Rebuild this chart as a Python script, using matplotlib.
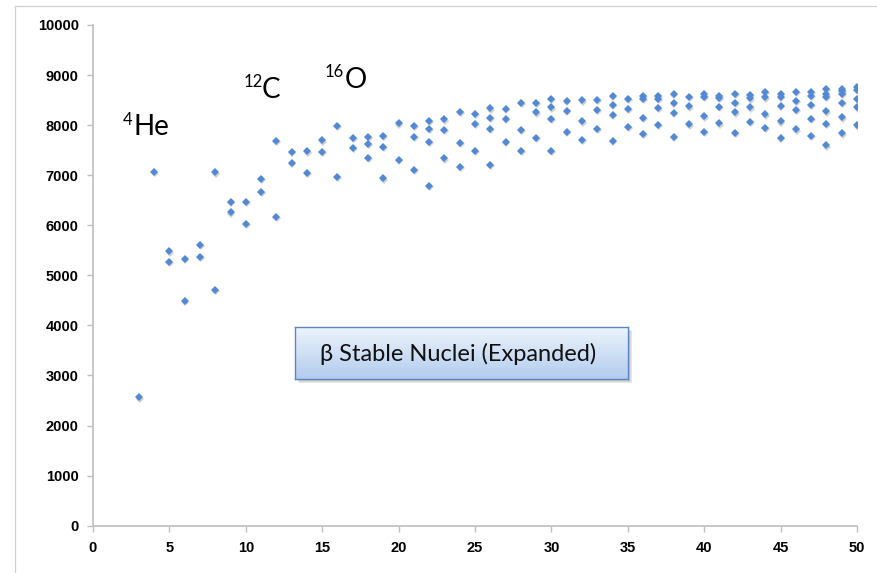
import matplotlib
matplotlib.use('Agg')
import matplotlib.pyplot as plt
import matplotlib.transforms as mtransforms
from matplotlib.patches import Rectangle
from matplotlib.lines import Line2D
import numpy as np

# ---- data ----
mass_number = (
    [3, 4, 5, 5, 6, 6, 7, 7, 8, 8, 9, 9, 10, 10, 11, 11, 12, 12, 13, 13,
     14, 14, 15, 15, 16, 16, 17, 17, 18, 18, 18, 19, 19, 19, 20, 20,
     21, 21, 21, 22, 22, 22, 22, 23, 23, 23, 24, 24, 24, 25, 25, 25,
     26, 26, 26, 26, 27, 27, 27, 28, 28, 28, 29, 29, 29, 30, 30, 30, 30,
     31, 31, 31, 32, 32, 32, 33, 33, 33, 34, 34, 34, 34, 35, 35, 35,
     36, 36, 36, 36, 37, 37, 37, 37, 38, 38, 38, 38, 39, 39, 39,
     40, 40, 40, 40, 41, 41, 41, 41, 42, 42, 42, 42, 43, 43, 43, 43,
     44, 44, 44, 44, 45, 45, 45, 45, 45, 46, 46, 46, 46,
     47, 47, 47, 47, 47, 48, 48, 48, 48, 48, 48,
     49, 49, 49, 49, 49, 49, 50, 50, 50, 50, 50]
)
binding_energy = (
    [2564, 7070, 5480, 5267, 5327, 4488, 5606, 5367, 7058, 4714, 6459, 6259,
     6471, 6032, 6924, 6671, 7683, 6171, 7470, 7238,
     7477, 7050, 7697, 7464, 7977, 6964, 7749, 7544, 7769, 7630, 7344,
     7783, 7570, 6938, 8036, 7304,
     7977, 7769, 7110, 8083, 7917, 7663, 6784, 8116, 7903, 7337,
     8262, 7649, 7170, 8226, 8023, 7483,
     8336, 8149, 7923, 7198, 8329, 8123, 7663, 8448, 7909, 7483,
     8448, 8256, 7749, 8522, 8356, 8123, 7483,
     8488, 8283, 7869, 8496, 8076, 7703, 8502, 8309, 7929,
     8588, 8402, 8203, 7683, 8522, 8329, 7969,
     8588, 8522, 8143, 7823, 8588, 8522, 8343, 8009,
     8622, 8442, 8243, 7769, 8562, 8376, 8016,
     8615, 8562, 8176, 7863, 8588, 8548, 8369, 8036,
     8622, 8442, 8256, 7843, 8608, 8535, 8356, 8069,
     8668, 8556, 8216, 7949, 8628, 8562, 8382, 8076, 7749,
     8668, 8488, 8302, 7916,
     8668, 8588, 8409, 8129, 7783, 8728, 8615, 8568, 8276, 8029, 7597,
     8715, 8675, 8628, 8442, 8156, 7836, 8768, 8702, 8528, 8356, 7996]
)
x_ticks = [0, 5, 10, 15, 20, 25, 30, 35, 40, 45, 50]
y_ticks = [0, 1000, 2000, 3000, 4000, 5000, 6000, 7000, 8000, 9000, 10000]
box_label = "β Stable Nuclei (Expanded)"
nuclide_labels = [("4", "He"), ("12", "C"), ("16", "O")]

# ---- figure ----
W, H = 878, 573
fig = plt.figure(figsize=(W / 100, H / 100), dpi=100)
fig.patch.set_facecolor('white')

def fx(px):
    return px / W

def fy(py):
    return 1 - py / H

ax = fig.add_axes([fx(93), fy(525.7), (857 - 93) / W, (525.7 - 25) / H])
ax.set_xlim(0, 50)
ax.set_ylim(0, 10000)

grey = '#BFBFBF'
for s in ['top', 'right']:
    ax.spines[s].set_visible(False)
for s in ['left', 'bottom']:
    ax.spines[s].set_color(grey)
    ax.spines[s].set_linewidth(1.2)

ax.set_xticks(x_ticks)
ax.set_yticks(y_ticks)
ax.set_xticklabels([str(t) for t in x_ticks])
ax.set_yticklabels([str(t) for t in y_ticks])
ax.tick_params(axis='y', direction='out', length=4.3, width=1.0, color=grey, pad=6)
ax.tick_params(axis='x', direction='out', length=4.0, width=1.0, color=grey, pad=7)
for lab in ax.get_xticklabels() + ax.get_yticklabels():
    lab.set_fontfamily(['Liberation Sans', 'DejaVu Sans'])
    lab.set_fontweight('bold')
    lab.set_fontsize(10.5)
    lab.set_color('#000000')

# marker shadow + markers
shadow_tr = mtransforms.offset_copy(ax.transData, fig=fig, x=0.8, y=-1.2, units='dots')
ax.plot(mass_number, binding_energy, linestyle='none', marker='D', markersize=3.6,
        color='#9a9a9a', alpha=0.45, markeredgewidth=0, transform=shadow_tr, zorder=2)
ax.plot(mass_number, binding_energy, linestyle='none', marker='D', markersize=3.6,
        color='#5289D4', markeredgewidth=0, zorder=3)

# ---- text box with gradient ----
bx0, bx1, by0, by1 = 295, 628, 327, 379
for i, a in enumerate([0.10, 0.10, 0.12]):
    d = 1 + i
    fig.patches.append(Rectangle((fx(bx0 + 1 + d), fy(by1 + 1 + d)),
                                 (bx1 - bx0) / W, (by1 - by0) / H,
                                 transform=fig.transFigure, facecolor='#404040',
                                 edgecolor='none', alpha=a, zorder=4))
grad = np.linspace(0, 1, 64)[:, None]
top = np.array([0.93, 0.955, 0.985])
bot = np.array([0.70, 0.80, 0.935])
img = top[None, None, :] * (1 - grad[..., None]) + bot[None, None, :] * grad[..., None]
img = np.repeat(img, 2, axis=1)
gax = fig.add_axes([fx(bx0), fy(by1), (bx1 - bx0) / W, (by1 - by0) / H], zorder=5)
gax.imshow(img, aspect='auto', extent=[0, 1, 0, 1], origin='upper')
gax.set_xticks([])
gax.set_yticks([])
for s in gax.spines.values():
    s.set_color('#5B86C5')
    s.set_linewidth(1.0)
gax.text(0.49, 0.48, box_label, ha='center', va='center', fontsize=17,
         family=['Lato', 'DejaVu Sans'], color='#111111', transform=gax.transAxes)

# ---- nuclide labels ----
label_pos = [((123, 125), (134, 135)), ((244, 87), (262, 98)), ((325, 77), (345, 88))]
for (sup, main), ((sx, sy), (mx, my)) in zip(nuclide_labels, label_pos):
    fig.text(fx(sx), fy(sy), sup, fontsize=12, family=['Lato', 'DejaVu Sans'],
             ha='left', va='baseline', color='#000000')
    fig.text(fx(mx), fy(my), main, fontsize=20, family=['Lato', 'DejaVu Sans'],
             ha='left', va='baseline', color='#000000')

# ---- outer chart border ----
fig.lines.append(Line2D([fx(15), fx(15)], [fy(6), fy(573)], transform=fig.transFigure,
                        color='#D0D0D0', linewidth=0.9))
fig.lines.append(Line2D([fx(15), fx(878)], [fy(6), fy(6)], transform=fig.transFigure,
                        color='#D0D0D0', linewidth=0.9))

fig.savefig('out.png', dpi=100, facecolor='white')
